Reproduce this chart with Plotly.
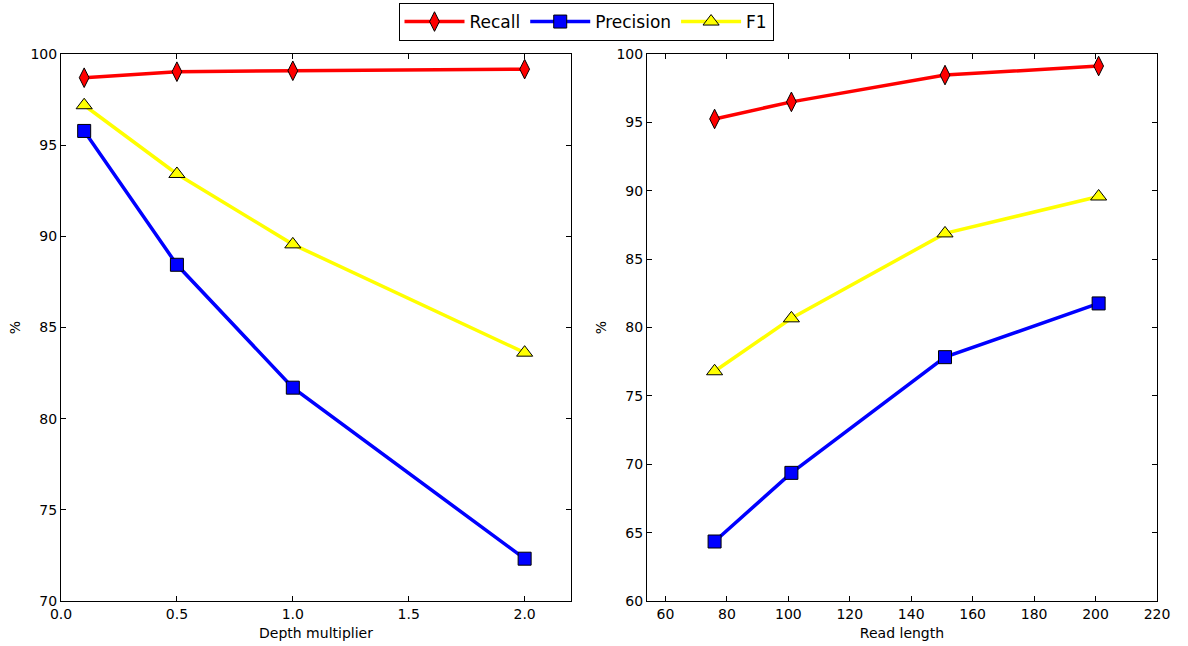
import plotly.graph_objects as go

# Left panel data
depth = [0.1, 0.5, 1.0, 2.0]
depth_recall = [98.70, 99.03, 99.08, 99.17]
depth_precision = [95.78, 88.44, 81.70, 72.32]
depth_f1 = [97.19, 93.42, 89.56, 83.62]

# Right panel data
read_len = [76, 101, 151, 201]
rl_recall = [95.25, 96.50, 98.46, 99.12]
rl_precision = [64.35, 69.37, 77.83, 81.76]
rl_f1 = [76.80, 80.67, 86.88, 89.58]

left_xticks = [0.0, 0.5, 1.0, 1.5, 2.0]
right_xticks = [60, 80, 100, 120, 140, 160, 180, 200, 220]

FONT = "DejaVu Sans"
W, H = 1188, 646

series = [
    ("Recall", "red", "diamond-tall", 14, depth_recall, rl_recall),
    ("Precision", "blue", "square", 13, depth_precision, rl_precision),
    ("F1", "yellow", "triangle-up", 14, depth_f1, rl_f1),
]

fig = go.Figure()
for name, color, sym, size, yl, yr in series:
    fig.add_trace(go.Scatter(
        x=depth, y=yl, mode="lines+markers", name=name,
        line=dict(color=color, width=3.5),
        marker=dict(symbol=sym, size=size, color=color,
                    line=dict(color="black", width=1)),
        xaxis="x", yaxis="y", showlegend=True,
    ))
    fig.add_trace(go.Scatter(
        x=read_len, y=yr, mode="lines+markers", name=name,
        line=dict(color=color, width=3.5),
        marker=dict(symbol=sym, size=size, color=color,
                    line=dict(color="black", width=1)),
        xaxis="x2", yaxis="y2", showlegend=False,
    ))

ax_common = dict(
    showline=True, linecolor="black", linewidth=1, mirror="ticks",
    ticks="inside", ticklen=5, tickwidth=1, tickcolor="black",
    showgrid=False, zeroline=False, automargin=False,
    tickfont=dict(family=FONT, size=14, color="black"),
)

y0, y1 = 1 - 601 / H, 1 - 54 / H

fig.update_layout(
    width=W, height=H,
    margin=dict(l=0, r=0, t=0, b=0),
    paper_bgcolor="white", plot_bgcolor="white",
    font=dict(family=FONT, size=14, color="black"),
    xaxis=dict(domain=[61 / W, 571 / W], range=[0, 2.2],
               tickvals=left_xticks, tickformat=".1f",
               title=dict(text="Depth multiplier", standoff=7,
                          font=dict(family=FONT, size=14)),
               anchor="y", **ax_common),
    yaxis=dict(domain=[y0, y1], range=[70, 100], dtick=5,
               title=dict(text="%", standoff=6,
                          font=dict(family=FONT, size=14)),
               anchor="x", **ax_common),
    xaxis2=dict(domain=[647 / W, 1157 / W], range=[54, 220],
                tickvals=right_xticks,
                title=dict(text="Read length", standoff=7,
                           font=dict(family=FONT, size=14)),
                anchor="y2", **ax_common),
    yaxis2=dict(domain=[y0, y1], range=[60, 100], dtick=5,
                title=dict(text="%", standoff=6,
                           font=dict(family=FONT, size=14)),
                anchor="x2", **ax_common),
    legend=dict(
        orientation="h", x=586 / W, xanchor="center",
        y=1 - 3 / H, yanchor="top",
        bordercolor="black", borderwidth=1, bgcolor="white",
        font=dict(family=FONT, size=17, color="black"),
        itemwidth=60,
    ),
)

fig.write_html("out.html")
